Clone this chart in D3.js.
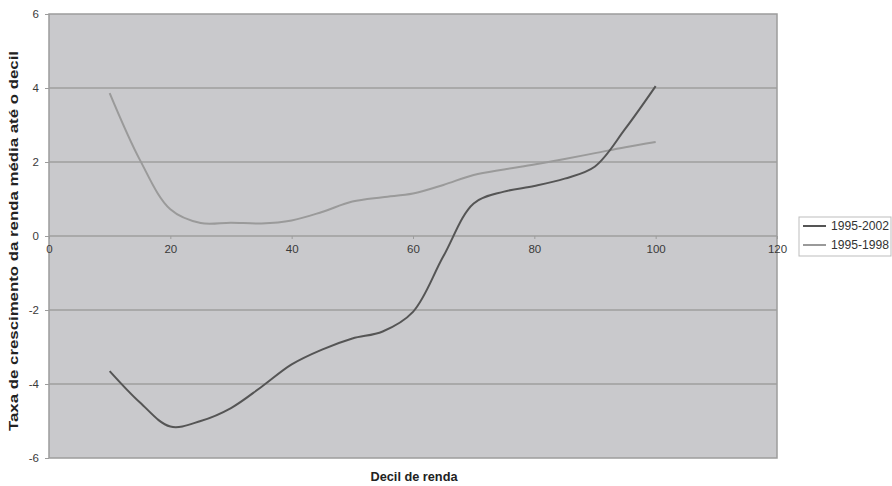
<!DOCTYPE html>
<html><head><meta charset="utf-8">
<script src="https://cdn.jsdelivr.net/npm/d3@7"></script>
<style>
body{margin:0;background:#fff;}
text{font-family:"Liberation Sans",Arial,sans-serif;}
</style></head>
<body><svg id="c" width="892" height="486"></svg>
<script>
const xValues = [10,15,20,25,30,35,40,45,50,55,60,65,70,75,80,85,90,95,100];
const s2002 = [-3.65,-4.5,-5.15,-5.0,-4.65,-4.08,-3.47,-3.07,-2.77,-2.58,-2.05,-0.55,0.88,1.2,1.35,1.55,1.88,2.9,4.05];
const s1998 = [3.86,2.05,0.72,0.35,0.36,0.34,0.42,0.65,0.93,1.05,1.15,1.38,1.65,1.8,1.93,2.08,2.24,2.4,2.54];
const seriesNames = ["1995-2002","1995-1998"];
const xTicks = [0,20,40,60,80,100,120];
const yTicks = [-6,-4,-2,0,2,4,6];

const svg = d3.select("#c");
const L=49, R=777, T=14, B=458;
const x = d3.scaleLinear().domain([0,120]).range([L,R]);
const y = d3.scaleLinear().domain([-6,6]).range([B,T]);
const fmt = d => String(d);

svg.append("rect").attr("x",L).attr("y",T).attr("width",R-L).attr("height",B-T)
  .attr("fill","#c9c9cc").attr("stroke","#9c9c9c").attr("stroke-width",1.5);

// gridlines
svg.append("g").selectAll("line").data(yTicks.filter(d=>d>-6&&d<6)).join("line")
  .attr("x1",L).attr("x2",R).attr("y1",d=>y(d)).attr("y2",d=>y(d))
  .attr("stroke","#9e9e9e").attr("stroke-width",1.5);

// y axis
const ya = svg.append("g").attr("transform",`translate(${L},0)`)
  .call(d3.axisLeft(y).tickValues(yTicks).tickFormat(fmt).tickSize(4).tickPadding(6));
ya.select(".domain").remove();
ya.selectAll("line").attr("stroke","#9c9c9c");
ya.selectAll("text").attr("font-size",11.5).attr("fill","#3a3a3a").attr("font-family","Liberation Sans, Arial, sans-serif");

// x axis at zero
const xa = svg.append("g").attr("transform",`translate(0,${y(0)})`)
  .call(d3.axisBottom(x).tickValues(xTicks).tickFormat(fmt).tickSize(3).tickPadding(6));
xa.select(".domain").remove();
xa.selectAll("line").attr("stroke","#9c9c9c");
xa.selectAll("text").attr("font-size",11.5).attr("fill","#3a3a3a").attr("font-family","Liberation Sans, Arial, sans-serif");

const line = d3.line().x((d,i)=>x(xValues[i])).y(d=>y(d)).curve(d3.curveCatmullRom.alpha(0.5));
svg.append("path").attr("d",line(s1998)).attr("fill","none").attr("stroke","#9a9a9a").attr("stroke-width",2);
svg.append("path").attr("d",line(s2002)).attr("fill","none").attr("stroke","#555555").attr("stroke-width",2);

// titles
svg.append("text").attr("x",414).attr("y",481).attr("text-anchor","middle")
  .attr("font-size",12).attr("font-weight","bold").attr("fill","#222")
  .attr("textLength",87).attr("lengthAdjust","spacingAndGlyphs").text("Decil de renda");
svg.append("text").attr("transform","translate(18,241) rotate(-90)").attr("text-anchor","middle")
  .attr("font-size",12).attr("font-weight","bold").attr("fill","#222")
  .attr("textLength",380).attr("lengthAdjust","spacingAndGlyphs")
  .text("Taxa de crescimento da renda média até o decil");

// legend
const lg = svg.append("g");
lg.append("rect").attr("x",799).attr("y",217).attr("width",92).attr("height",39)
  .attr("fill","#fff").attr("stroke","#bdbdbd");
const colors = ["#555555","#9a9a9a"];
seriesNames.forEach((n,i)=>{
  const yy = 226 + i*19;
  lg.append("line").attr("x1",803).attr("x2",826).attr("y1",yy).attr("y2",yy)
    .attr("stroke",colors[i]).attr("stroke-width",2);
  lg.append("text").attr("x",831).attr("y",yy+4).attr("font-size",12).attr("fill","#333")
    .attr("textLength",58).attr("lengthAdjust","spacingAndGlyphs").text(n);
});
</script></body></html>
